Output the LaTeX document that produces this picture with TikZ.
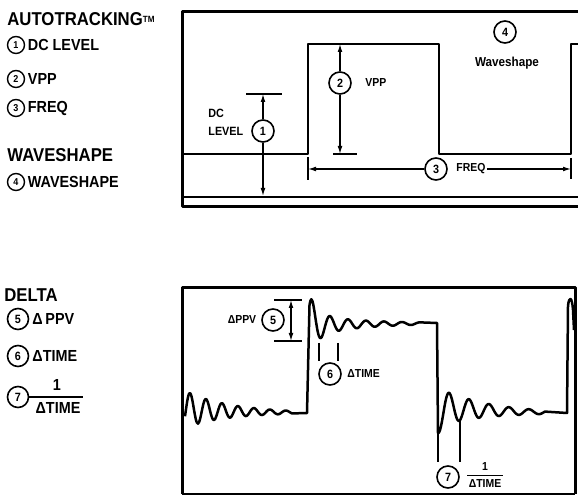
\documentclass[tikz,border=0pt]{standalone}
\usepackage{fontspec}
\setmainfont{Liberation Sans}[FakeStretch=0.9]
\usetikzlibrary{arrows.meta}

\begin{document}
\begin{tikzpicture}[x=0.5pt, y=-0.5pt, line join=round,
    legnum/.style={draw, circle, line width=0.7pt, inner sep=0pt, minimum size=8.5pt, font=\bfseries\fontsize{5}{5}\selectfont},
    dnum/.style={draw, circle, line width=0.8pt, inner sep=0pt, minimum size=10.5pt, font=\bfseries\fontsize{6}{6}\selectfont},
    boxnum/.style={draw, circle, line width=0.8pt, inner sep=0pt, minimum size=11pt, font=\bfseries\fontsize{6}{6}\selectfont},
    head/.style={anchor=west, inner sep=0pt, font=\bfseries\fontsize{9.3}{10}\selectfont},
    item/.style={anchor=west, inner sep=0pt, font=\bfseries\fontsize{8}{9}\selectfont},
    lbl/.style={inner sep=0.5pt, font=\bfseries\fontsize{5.8}{6.5}\selectfont},
    dim/.style={line width=0.6pt, -{Latex[length=4pt,width=2.4pt]}},
    tick/.style={line width=0.6pt},
    trace/.style={line width=1.25pt},
    frame/.style={line width=1.5pt}]
    \useasboundingbox (0,0) rectangle (578,496);

    % Legend (Autotracking)
    \node[head] (h_auto) at (7,19) {AUTOTRACKING\raisebox{1.2pt}{\fontsize{4.5}{5}\selectfont TM}};
    \node[legnum] (n1_leg) at (16,45) {1};
    \node[item] (t1_leg) at (27.5,45) {DC LEVEL};
    \node[legnum] (n2_leg) at (16,79) {2};
    \node[item] (t2_leg) at (27.5,79) {VPP};
    \node[legnum] (n3_leg) at (16,108) {3};
    \node[item] (t3_leg) at (27.5,108) {FREQ};
    \node[head] (h_wave) at (7,155) {WAVESHAPE};
    \node[legnum] (n4_leg) at (16,182) {4};
    \node[item] (t4_leg) at (27.5,182) {WAVESHAPE};

    % Legend (Delta)
    \node[head] (h_delta) at (4,295) {DELTA};
    \node[dnum] (n5_leg) at (18,319) {5};
    \node[item] (t5_leg) at (32,319) {Δ\,PPV};
    \node[dnum] (n6_leg) at (18,356) {6};
    \node[item] (t6_leg) at (32,356) {ΔTIME};
    \node[dnum] (n7_leg) at (18,397) {7};
    \node[item, anchor=center] (one_leg) at (57,385) {1};
    \node[item, anchor=center] (dt_leg) at (58,408) {ΔTIME};
    \coordinate (bar_leg) at (83,397);
    \draw[line width=0.8pt] (n7_leg) -- (bar_leg);

    % Top screen
    \draw[frame] (578,12) -- (182,12) -- (182,207) -- (578,207);
    \draw[line width=0.9pt] (182,197) -- (578,197);
    \draw[trace] (182,154) -- (308,154) -- (308,44) -- (439,44) -- (439,154) -- (571,154) -- (571,44) -- (578,44);

    % DC level
    \node[boxnum] (n1) at (263,131) {1};
    \node[lbl, align=left, anchor=west, font=\bfseries\fontsize{6}{9}\selectfont] (t_dc) at (207,122) {DC\\LEVEL};
    \coordinate (dc_top) at (263,94);
    \coordinate (dc_bot) at (263,196);
    \draw[tick] (246,94) -- (282,94);
    \draw[dim] (n1) -- (dc_top);
    \draw[dim] (n1) -- (dc_bot);

    % VPP
    \node[boxnum] (n2) at (340,83) {2};
    \node[lbl, anchor=west] (t_vpp) at (364,83) {VPP};
    \coordinate (vpp_top) at (340,44);
    \coordinate (vpp_bot) at (340,154);
    \draw[tick] (333,154) -- (357,154);
    \draw[dim] (n2) -- (vpp_top);
    \draw[dim] (n2) -- (vpp_bot);

    % FREQ
    \node[boxnum] (n3) at (436,169) {3};
    \node[lbl, anchor=west] (t_freq) at (455,169) {FREQ};
    \coordinate (f_left) at (308,169);
    \coordinate (f_right) at (571,169);
    \draw[tick] (308,157) -- (308,180);
    \draw[tick] (571,158) -- (571,179);
    \draw[dim] (n3) -- (f_left);
    \draw[dim] (t_freq) -- (f_right);

    % Waveshape
    \node[boxnum] (n4) at (505,32) {4};
    \node[lbl, font=\bfseries\fontsize{6.5}{7}\selectfont] (t_wave) at (507,63) {Waveshape};

    % Bottom screen
    \draw[frame] (182,494) -- (182,288) -- (575,288) -- (575,494);
    \draw[line width=0.6pt] (182,494) -- (575,494);
    \draw[trace] plot[domain=185:292, samples=100, smooth] (\x, {413 - 3.5*exp(-(\x-190)/60) - 16.5*exp(-(\x-190)/43)*cos(22.5*(\x-190))})
        -- (307,413)
        -- plot[domain=309.5:420, samples=120, smooth] (\x, {325 - 2*(1-exp(-(\x-312)/80)) - (10*exp(-(\x-312)/50) + 15*exp(-(\x-312)/8))*cos(20*(\x-312))})
        -- (437,323)
        -- plot[domain=438:545, samples=110, smooth] (\x, {413 - 7*(1-exp(-(\x-439)/6))*exp(-(\x-439)/50) + 19.5*exp(-(\x-439)/45)*cos(18*(\x-439))})
        -- (567,413) -- (568,306) .. controls (569,296) and (572,296) .. (573,310) -- (574,330);

    % Delta PPV
    \node[boxnum] (n5) at (273,320) {5};
    \node[lbl] (t_ppv) at (242,320) {ΔPPV};
    \coordinate (ppv_top) at (291,300);
    \coordinate (ppv_bot) at (291,341);
    \draw[tick] (274,300) -- (302,300);
    \draw[tick] (274,341) -- (302,341);
    \draw[dim, {Latex[length=4pt,width=2.4pt]}-{Latex[length=4pt,width=2.4pt]}] (ppv_top) -- (ppv_bot);

    % Delta time
    \draw[tick] (319,343) -- (319,361);
    \draw[tick] (338,343) -- (338,361);
    \node[boxnum] (n6) at (330,374) {6};
    \node[lbl, anchor=west] (t_dt6) at (346,374) {ΔTIME};

    % 1 / Delta time
    \draw[tick] (438,432) -- (438,462);
    \draw[tick] (460,420) -- (460,462);
    \node[boxnum] (n7) at (448,477) {7};
    \node[lbl] (t_one7) at (485,467) {1};
    \node[lbl] (t_dt7) at (485,484) {ΔTIME};
    \draw[tick] ([yshift=1.5pt]t_dt7.north west) -- ([yshift=1.5pt]t_dt7.north east);
\end{tikzpicture}
\end{document}
